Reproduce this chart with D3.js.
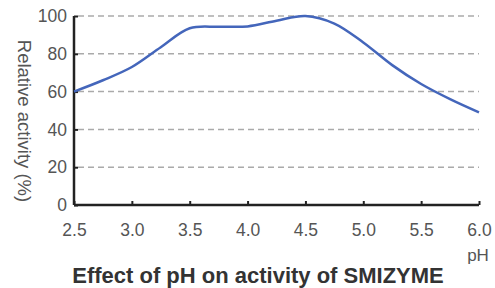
<!DOCTYPE html>
<html>
  <head>
    <title>Effect of pH on activity</title>
    <meta charset="utf-8">
    <style>
      body { margin: 0; background: #fff; }
      svg { display: block; }
      text { font-family: "Liberation Sans", Arial, sans-serif; }
    </style>
    <script src="https://cdn.jsdelivr.net/npm/d3@7"></script>
  </head>
  <body>
    <svg id="chart" width="495" height="288"></svg>
    <script>
      // values
      var phValues = [2.5, 2.75, 3.0, 3.25, 3.5, 3.75, 4.0, 4.25, 4.5, 4.75, 5.0, 5.25, 5.5, 5.75, 6.0];
      var activity = [60, 66, 73, 83.5, 93.5, 94.3, 94.5, 97.5, 100, 96, 86, 74, 64, 56, 49];
      var xTicks = [2.5, 3.0, 3.5, 4.0, 4.5, 5.0, 5.5, 6.0];
      var yTicks = [0, 20, 40, 60, 80, 100];

      var svg = d3.select('#chart');
      var x = d3.scaleLinear().domain([2.5, 6.0]).range([74, 479]);
      var y = d3.scaleLinear().domain([0, 100]).range([205, 16]);

      // dashed gridlines
      svg.append('g').selectAll('line').data(yTicks.filter(function(d) { return d > 0; }))
        .enter().append('line')
        .attr('x1', x(2.5) + 4).attr('x2', x(6.0))
        .attr('y1', function(d) { return y(d); }).attr('y2', function(d) { return y(d); })
        .attr('stroke', '#aaa').attr('stroke-width', 1.5).attr('stroke-dasharray', '6,4');

      // axes
      var xAxis = d3.axisBottom(x).tickValues(xTicks).tickSize(-4).tickPadding(19).tickFormat(d3.format('.1f'));
      var yAxis = d3.axisLeft(y).tickValues(yTicks).tickSize(-4).tickPadding(7);

      var gx = svg.append('g').attr('transform', 'translate(0,' + y(0) + ')').call(xAxis);
      var gy = svg.append('g').attr('transform', 'translate(' + x(2.5) + ',0)').call(yAxis);

      [gx, gy].forEach(function(g) {
        g.select('.domain').attr('stroke', '#222').attr('stroke-width', 2.5);
        g.selectAll('.tick line').attr('stroke', '#222').attr('stroke-width', 2);
        g.selectAll('.tick text').attr('fill', '#555').style('font-size', '17.5px');
      });
      gy.select('.domain').attr('d', 'M0,' + y(100) + 'V' + y(0));
      gx.select('.domain').attr('d', 'M' + x(2.5) + ',0H' + x(6.0));

      // curve
      var line = d3.line()
        .x(function(d, i) { return x(phValues[i]); })
        .y(function(d) { return y(d); })
        .curve(d3.curveCatmullRom.alpha(0.5));

      svg.append('path').datum(activity)
        .attr('d', line)
        .attr('fill', 'none')
        .attr('stroke', '#4466bb')
        .attr('stroke-width', 2.5);

      // labels
      svg.append('text').attr('x', x(6.0) - 1).attr('y', 261)
        .attr('text-anchor', 'middle').attr('fill', '#555').style('font-size', '17px').text('pH');

      svg.append('text')
        .attr('transform', 'translate(18,' + 121 + ') rotate(90)')
        .attr('text-anchor', 'middle').attr('fill', '#555').style('font-size', '18.5px')
        .text('Relative activity (%)');

      svg.append('text').attr('x', 258).attr('y', 283)
        .attr('text-anchor', 'middle').attr('fill', '#333')
        .style('font-size', '22px').style('font-weight', 'bold')
        .text('Effect of pH on activity of SMIZYME');
    </script>
  </body>
</html>
